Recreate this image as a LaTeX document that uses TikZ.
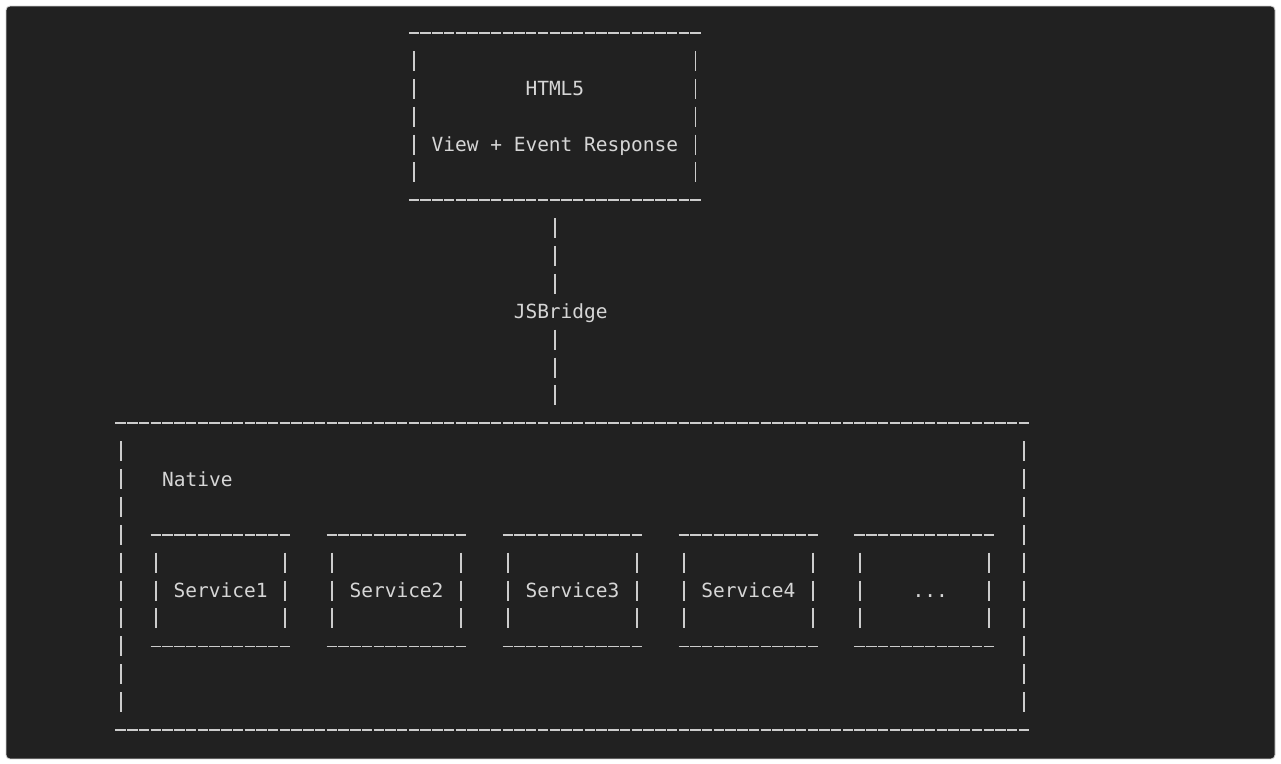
\documentclass[tikz,border=0pt]{standalone}
\usepackage{fontspec}
\newfontfamily\codefont{DejaVu Sans Mono}
\usepackage{tikz}
\usepackage{xcolor}

\definecolor{codebg}{HTML}{212121}
\definecolor{codefg}{HTML}{D6D6D6}
\definecolor{rulefg}{HTML}{CCCCCC}

\tikzset{
  hdash/.style={rulefg, line width=1.7pt, dash pattern=on 10.43pt off 1.3pt},
  vdash/.style={rulefg, line width=1.7pt, dash pattern=on 20pt off 7.88pt},
  frame/.style={inner sep=0pt, outer sep=0pt},
  lbl/.style={font=\fontsize{19.5pt}{27.88pt}\codefont, text=codefg,
    inner sep=0pt, text height=14.2pt, text depth=0pt},
}

% ascii-like box round a frame node
\newcommand{\asciibox}[1]{%
  \draw[hdash] ([xshift=0.5pt]#1.north west) -- (#1.north east);
  \draw[hdash] ([xshift=0.5pt]#1.south west) -- (#1.south east);
  \draw[vdash] ([xshift=5.865pt,yshift=-17.88pt]#1.north west) -- ([xshift=5.865pt,yshift=17.88pt]#1.south west);
  \draw[vdash] ([xshift=-5.865pt,yshift=-17.88pt]#1.north east) -- ([xshift=-5.865pt,yshift=17.88pt]#1.south east);
}

\begin{document}
\begin{tikzpicture}[x=11.73pt,y=-27.88pt]
\useasboundingbox (-9.804,-1.1836) rectangle (99.404,26.219);
\fill[white] (-9.804,-1.1836) rectangle (99.404,26.219);
\draw[fill=codebg, draw=gray!35, line width=0.8pt, rounded corners=4pt] (-9.292,-0.968) rectangle (98.892,26.04);

% HTML5 box
\node[frame, minimum width=293.25pt, minimum height=167.28pt] (html) at (37.5,3) {};
\asciibox{html}
\node[lbl] (html title) at (37.5,2) {HTML5};
\node[lbl] (html text) at (37.5,4) {View + Event Response};

% Native box
\node[frame, minimum width=914.94pt, minimum height=306.68pt] (native) at (39,19.5) {};
\asciibox{native}
\node[lbl, anchor=west] (native title) at (4,16) {Native};

% services
\node[frame, minimum width=140.76pt, minimum height=111.52pt] (s1) at (9,20) {};
\node[frame, minimum width=140.76pt, minimum height=111.52pt] (s2) at (24,20) {};
\node[frame, minimum width=140.76pt, minimum height=111.52pt] (s3) at (39,20) {};
\node[frame, minimum width=140.76pt, minimum height=111.52pt] (s4) at (54,20) {};
\node[frame, minimum width=140.76pt, minimum height=111.52pt] (s5) at (69,20) {};
\asciibox{s1}
\asciibox{s2}
\asciibox{s3}
\asciibox{s4}
\asciibox{s5}
\node[lbl] (s1 text) at (s1) {Service1};
\node[lbl] (s2 text) at (s2) {Service2};
\node[lbl] (s3 text) at (s3) {Service3};
\node[lbl] (s4 text) at (s4) {Service4};
\node[lbl] (s5 text) at ([xshift=5.865pt]s5.center) {...};

% bridge
\node[lbl] (jsb) at (38,10) {JSBridge};
\draw[vdash] ([yshift=-17.88pt]html.south) -- ([yshift=17.88pt]jsb.center -| html.south);
\draw[vdash] ([yshift=-17.88pt]jsb.center -| html.south) -- ([yshift=17.88pt]native.north -| html.south);

\end{tikzpicture}
\end{document}
